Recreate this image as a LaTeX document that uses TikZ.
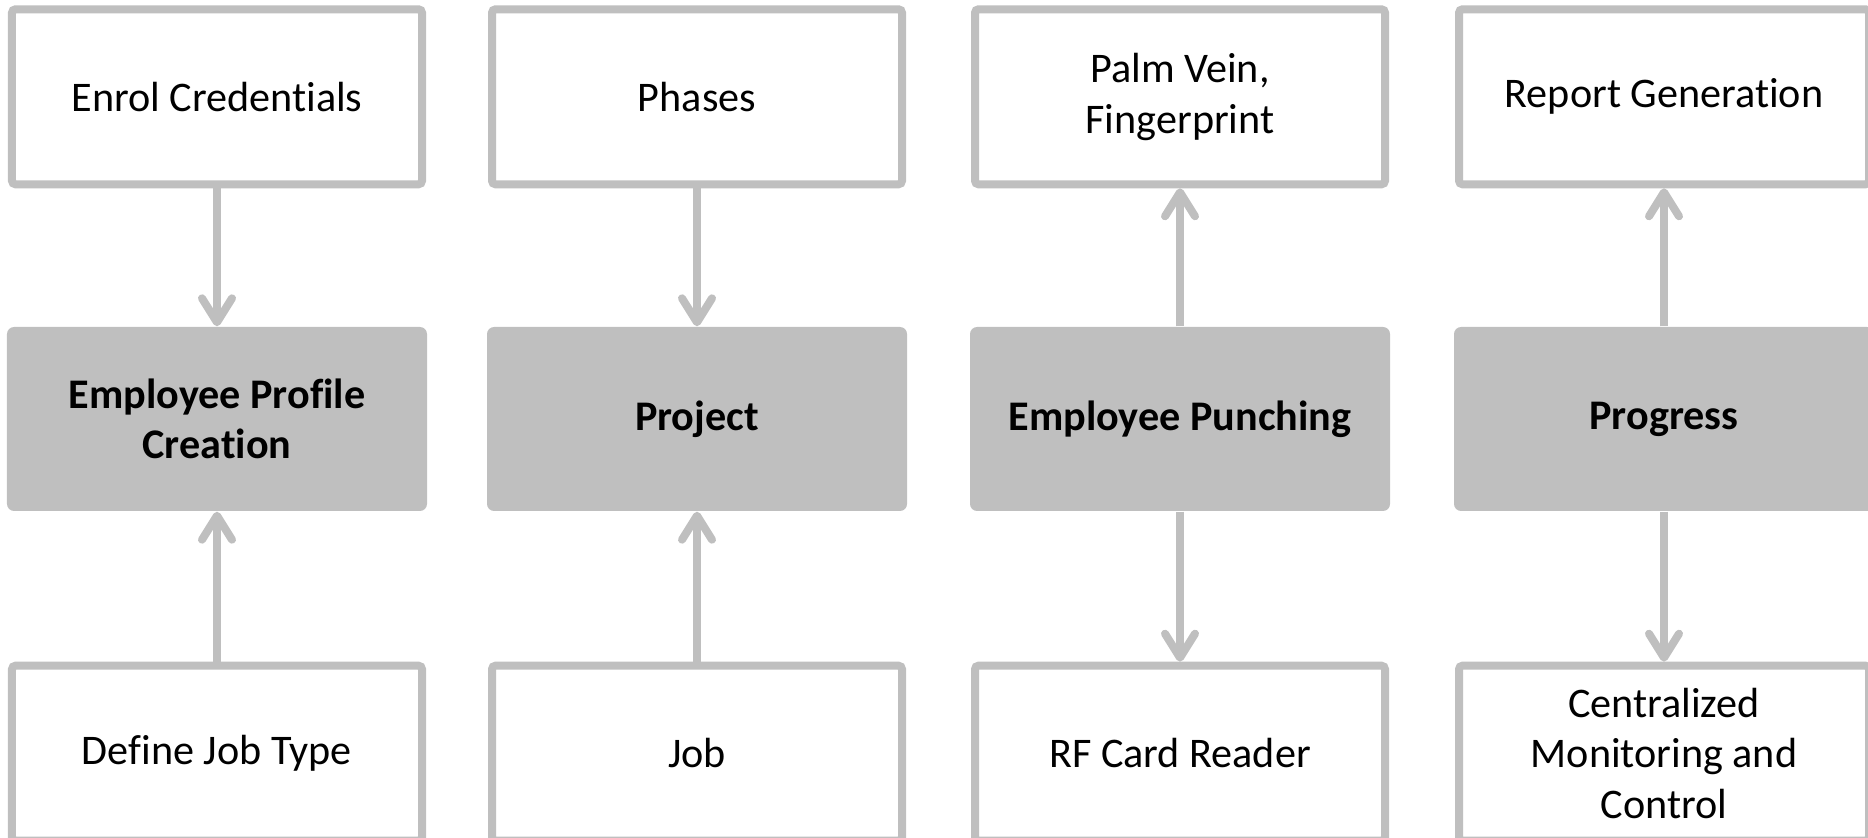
\documentclass[tikz,border=0pt]{standalone}
\usepackage{fontspec}
\setmainfont{Carlito}[Ligatures=NoCommon]
\usepackage{xcolor}
\usepackage{tikz}
\usetikzlibrary{positioning, arrows.meta}

\definecolor{boxgray}{RGB}{191,191,191}

\begin{document}
\begin{tikzpicture}[
  hub/.style={fill=boxgray, rounded corners=2pt, font=\fontsize{12}{14.4}\selectfont\bfseries, minimum width=42mm, minimum height=18.4mm, align=center, inner sep=2pt},
  item/.style={draw=boxgray, line width=0.8mm, rounded corners=1pt, fill=white, font=\fontsize{12}{14.4}\selectfont, minimum width=41mm, minimum height=17.5mm, align=center, inner sep=2pt},
  arr/.style={-{Straight Barb[round, length=2.4mm, width=3mm]}, draw=boxgray, line width=0.8mm},
]

\clip (0,0) rectangle (18.68,-8.38);

% --- Middle row ---
\node[hub] (emp) at (2.17,-4.19) {Employee Profile\\Creation};
\node[hub] (proj) at (6.97,-4.19) {Project};
\node[hub] (punch) at (11.80,-4.19) {Employee Punching};
\node[hub] (prog) at (16.64,-4.19) {Progress};

% --- Top row ---
\node[item, above=13.8mm of emp] (enrol) {Enrol Credentials};
\node[item, above=13.8mm of proj] (phase) {Phases};
\node[item, above=13.8mm of punch] (palm) {Palm Vein,\\Fingerprint};
\node[item, above=13.8mm of prog] (report) {Report Generation};

% --- Bottom row ---
\node[item, below=15mm of emp] (jtype) {Define Job Type};
\node[item, below=15mm of proj] (job) {Job};
\node[item, below=15mm of punch] (rf) {RF Card Reader};
\node[item, below=15mm of prog] (cmc) {Centralized\\Monitoring and\\Control};

% --- Connectors ---
\foreach \a/\b in {enrol/emp, jtype/emp, phase/proj, job/proj, punch/palm, punch/rf, prog/report, prog/cmc} { \draw[arr] (\a) -- (\b); }

\end{tikzpicture}
\end{document}
